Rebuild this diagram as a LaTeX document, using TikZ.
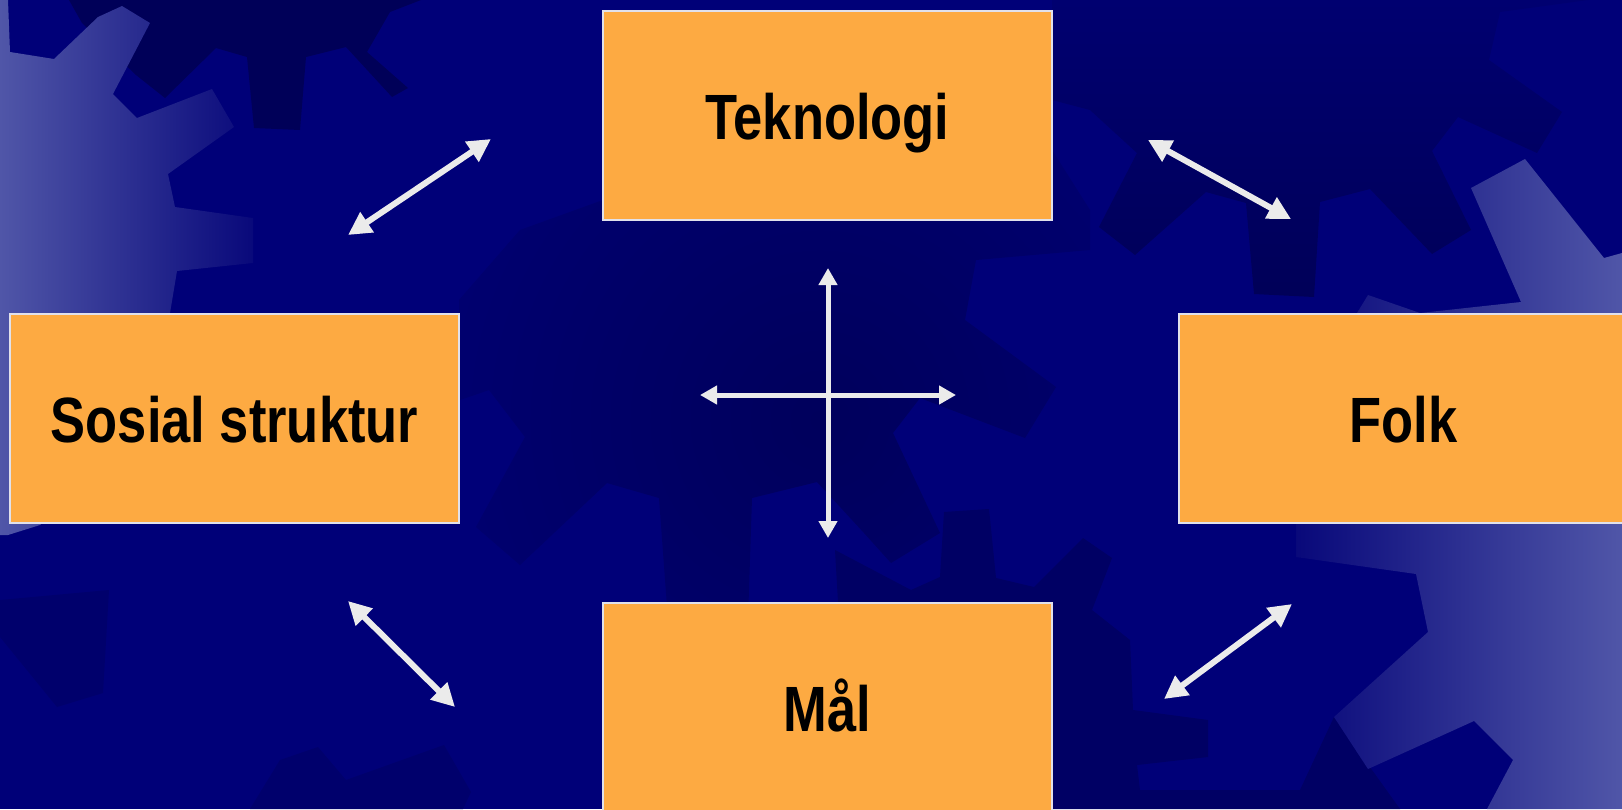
\documentclass[tikz,border=0pt]{standalone}
\usepackage{fontspec}
\newfontfamily\boxfont{Liberation Sans}[FakeStretch=0.82]
\usetikzlibrary{arrows.meta}
\definecolor{bg}{RGB}{0,0,120}
\definecolor{bgmid}{RGB}{0,0,112}
\definecolor{darkgear}{RGB}{0,0,88}
\definecolor{centergear}{RGB}{0,0,92}
\definecolor{darkgearb}{RGB}{0,0,100}
\definecolor{faintgear}{RGB}{0,0,108}
\definecolor{lightgear}{RGB}{80,86,168}
\definecolor{lightedge}{RGB}{8,8,122}
\definecolor{boxfill}{RGB}{253,170,66}
\definecolor{boxline}{RGB}{225,225,235}
\definecolor{arrowc}{RGB}{235,235,235}
\tikzset{
  topic/.style={draw=boxline, line width=2pt, fill=boxfill, minimum width=449pt,
    minimum height=209pt, inner sep=0pt, text height=48pt, text depth=0pt,
    font=\boxfont\bfseries\fontsize{64}{70}\selectfont, text=black},
  dbl/.style={draw=arrowc, line width=6pt,
    {Triangle[width=23pt,length=23pt]}-{Triangle[width=23pt,length=23pt]}},
  crossarrow/.style={draw=arrowc, line width=5pt,
    {Triangle[width=18pt,length=17pt]}-{Triangle[width=18pt,length=17pt]}},
}
\begin{document}
\begin{tikzpicture}[x=1pt,y=-1pt]
\useasboundingbox (0,0) rectangle (1622,809);
\clip (0,0) rectangle (1622,809);
\fill[bg] (0,0) rectangle (1622,809);
% top dark gear
\fill[darkgear] (69,0) -- (82,23) -- (136,75) -- (165,98) -- (216,48) -- (247,57) -- (254,128)
  -- (300,130) -- (306,57) -- (346,47) -- (392,97) -- (408,88) -- (367,52) -- (390,12) -- (421,0) -- cycle;
% top-right dark gear
\begin{scope}
  \clip (1052,0) -- (1588,0) -- (1500,12) -- (1489,60) -- (1562,112) -- (1537,153) -- (1458,117)
    -- (1432,151) -- (1471,230) -- (1432,254) -- (1370,189) -- (1320,202) -- (1314,297) -- (1254,294)
    -- (1246,203) -- (1206,192) -- (1135,255) -- (1099,227) -- (1137,153) -- (1090,110) -- (1052,100) -- cycle;
  \shade[top color=bgmid, bottom color=darkgear] (1040,0) rectangle (1600,300);
\end{scope}
% central dark gear
\begin{scope}
  \clip (603,150) -- (1052,150) -- (1090,210) -- (1090,250) -- (976,260) -- (965,320) -- (1056,387)
    -- (1025,438) -- (920,398) -- (893,433) -- (940,533) -- (891,563) -- (864,533) -- (817,482)
    -- (752,498) -- (748,620) -- (668,620) -- (659,498) -- (607,483) -- (520,565) -- (476,527)
    -- (525,437) -- (489,390) -- (460,400) -- (459,300) -- (520,230) -- (603,200) -- cycle;
  \shade[inner color=centergear, outer color=bgmid] (820,420) circle (400);
\end{scope}
% lower-right dark gear
\fill[darkgearb] (835,550) -- (911,590) -- (940,577) -- (944,512) -- (989,509) -- (996,578) -- (1034,587)
  -- (1083,538) -- (1112,558) -- (1092,610) -- (1130,640) -- (1133,710) -- (1208,720) -- (1208,757)
  -- (1137,765) -- (1140,790) -- (1300,790) -- (1334,717) -- (1400,809) -- (850,809) -- cycle;
% bottom-left faint gears
\fill[faintgear] (318,747) -- (346,780) -- (444,745) -- (471,792) -- (463,809) -- (250,809) -- (280,760) -- cycle;
\fill[faintgear] (0,637) -- (57,707) -- (103,693) -- (109,590) -- (0,600) -- cycle;
% left light gear
\begin{scope}
  \clip (0,0) -- (8,0) -- (10,52) -- (54,59) -- (98,17) -- (122,6) -- (150,23) -- (113,94) -- (137,118)
    -- (212,89) -- (234,127) -- (168,174) -- (175,207) -- (253,218) -- (253,263) -- (177,271)
    -- (170,313) -- (150,420) -- (40,525) -- (8,535) -- (0,535) -- cycle;
  \shade[left color=lightgear, right color=lightedge] (0,0) rectangle (256,545);
\end{scope}
% right light gear
\begin{scope}
  \clip (1296,525) -- (1330,320) -- (1357,313) -- (1368,295) -- (1420,313) -- (1521,302) -- (1471,188)
    -- (1525,159) -- (1604,258) -- (1622,253) -- (1622,809) -- (1487,809) -- (1513,760) -- (1474,721)
    -- (1368,769) -- (1334,717) -- (1428,632) -- (1416,574) -- (1296,557) -- cycle;
  \shade[left color=lightedge, right color=lightgear] (1294,150) rectangle (1622,809);
\end{scope}
% boxes
\node[topic] (tek) at (827.5,115.5) {Teknologi};
\node[topic] (sos) at (234.5,418.5) {Sosial struktur};
\node[topic] (folk) at (1403.5,418.5) {Folk};
\node[topic] (mal) at (827.5,707.5) {Mål};
% arrow end points
\coordinate (a1s) at (348,235); \coordinate (a1e) at (491,139);
\coordinate (a2s) at (1148,140); \coordinate (a2e) at (1291,219);
\coordinate (a3s) at (348,601); \coordinate (a3e) at (455,707);
\coordinate (a4s) at (1164,699); \coordinate (a4e) at (1292,604);
\coordinate (vt) at (828,268); \coordinate (vb) at (828,538);
\coordinate (hl) at (700,395); \coordinate (hr) at (956,395);
\draw[dbl] (a1s) -- (a1e);
\draw[dbl] (a2s) -- (a2e);
\draw[dbl] (a3s) -- (a3e);
\draw[dbl] (a4s) -- (a4e);
\draw[crossarrow] (hl) -- (hr);
\draw[crossarrow] (vt) -- (vb);
\end{tikzpicture}
\end{document}
